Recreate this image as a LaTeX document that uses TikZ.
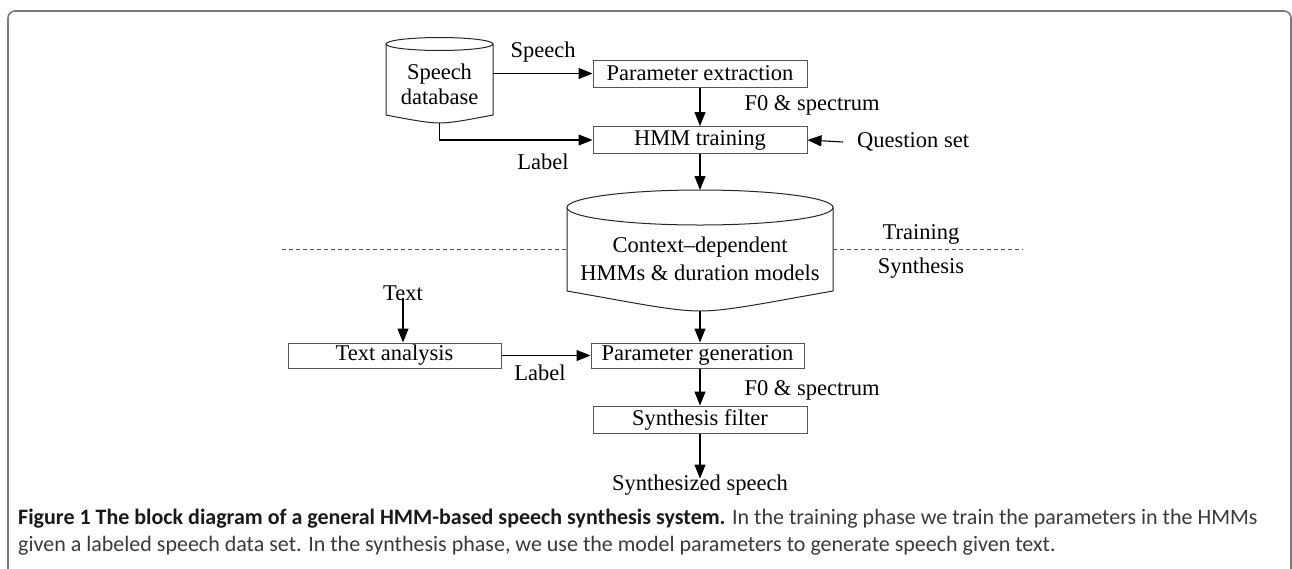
\documentclass[tikz,border=0pt]{standalone}
\usepackage{fontspec}
\setmainfont{Liberation Serif}
\newfontfamily\capfont{Carlito}
\usetikzlibrary{arrows.meta}
\definecolor{framegray}{HTML}{7A7A7A}
\definecolor{boxgray}{HTML}{555555}
\definecolor{captext}{HTML}{3A3A3A}
\tikzset{
  diag/.style={font=\fontsize{22.5}{26}\selectfont},
  blockbox/.style={draw=boxgray, line width=1pt, minimum height=27pt, inner sep=0pt, diag},
  lbl/.style={inner sep=0pt, diag},
  arr/.style={line width=1.1pt, -{Triangle[length=14pt,width=11pt]}},
  dbshape/.style={draw=black!85, line width=1pt},
  captline/.style={anchor=west, inner sep=0pt, text=captext, font=\capfont\fontsize{22}{26}\selectfont},
}
\begin{document}
\begin{tikzpicture}[x=1pt,y=-1pt]
\useasboundingbox (0,0) rectangle (1292,568);

% outer frame, open at the bottom
\draw[framegray, line width=1.6pt, rounded corners=7pt]
  (8,580) -- (8,11) -- (1291,11) -- (1291,580);

% speech database cylinder
\draw[dbshape] (386,44) -- (386,115)
  .. controls (412,120) and (428,123) .. (439.5,123)
  .. controls (451,123) and (467,120) .. (493,115) -- (493,44);
\draw[dbshape] (439.5,44) ellipse [x radius=53.5, y radius=6.5];
\node[lbl, align=center] (sdb) at (439.5,84) {Speech\\[-1pt]database};
\coordinate (sdbR) at (493,73.5);
\coordinate (sdbB) at (439.5,123);

% training blocks
\node[blockbox, minimum width=214pt] (pe)  at (700,73.5) {Parameter extraction};
\node[blockbox, minimum width=214pt] (hmm) at (700,140) {HMM training};
\node[lbl, anchor=west] (qs) at (857,142) {Question set};

\draw[arr] (sdbR) -- (pe.west);
\node[lbl] (lspeech) at (543,52) {Speech};
\draw[arr] (sdbB) |- (hmm.west);
\node[lbl] (llabel1) at (543,162) {Label};
\draw[arr] (pe.south) -- (hmm.north);
\node[lbl] (f0a) at (812,105) {F0 \& spectrum};
\draw[arr] ([xshift=-14pt]qs.west) -- (hmm.east);

% model database cylinder
\draw[dbshape] (567,207.5) -- (567,291)
  .. controls (630,302) and (672,311) .. (700,311)
  .. controls (728,311) and (770,302) .. (833,291) -- (833,207.5);
\draw[dbshape] (700,207.5) ellipse [x radius=133, y radius=17.5];
\node[lbl, align=center] (models) at (700,259) {Context\textendash dependent\\[2pt]HMMs \& duration models};
\coordinate (mdT) at (700,190);
\coordinate (mdB) at (700,311);
\draw[arr] (hmm.south) -- (mdT);

% phase boundary
\coordinate (dl1) at (282,249);
\coordinate (dl2) at (1023,249);
\draw[boxgray, line width=0.8pt, dash pattern=on 4pt off 3pt] (dl1) -- (567,249);
\draw[boxgray, line width=0.8pt, dash pattern=on 4pt off 3pt] (833,249) -- (dl2);
\node[lbl] (train) at (921,234) {Training};
\node[lbl] (synth) at (921,268) {Synthesis};

% synthesis blocks
\node[lbl] (txt) at (403,293) {Text};
\node[blockbox, minimum width=213pt, minimum height=25pt] (ta) at (394.5,355.5) {Text analysis};
\node[blockbox, minimum width=213pt, minimum height=25pt] (pg) at (697.5,355.5) {Parameter generation};
\node[blockbox, minimum width=214pt, minimum height=27pt] (sf) at (700,419.5) {Synthesis filter};
\node[lbl] (out) at (700,485) {Synthesized speech};

\draw[arr] ([yshift=3pt]txt.south) -- (txt.south |- ta.north);
\draw[arr] (mdB) -- (mdB |- pg.north);
\draw[arr] (ta.east) -- (pg.west);
\node[lbl] (llabel2) at (540,373) {Label};
\draw[arr] (pg.south -| sf.north) -- (sf.north);
\node[lbl] (f0b) at (812,390) {F0 \& spectrum};
\draw[arr] (sf.south) -- ([yshift=-4pt]out.north);

% caption
\node[captline] (cap1) at (18,519)
  {\textbf{\color{black!90}Figure 1 The block diagram of a general HMM-based speech synthesis system.} In the training phase we train the parameters in the HMMs};
\node[captline] (cap2) at (18,546)
  {given a labeled speech data set. In the synthesis phase, we use the model parameters to generate speech given text.};
\end{tikzpicture}
\end{document}
